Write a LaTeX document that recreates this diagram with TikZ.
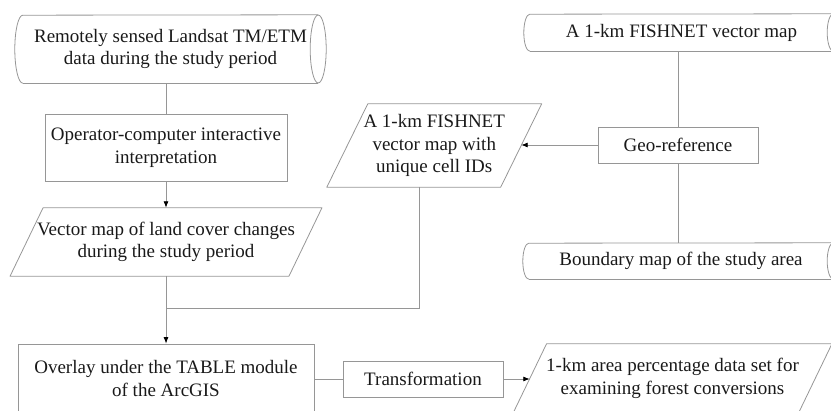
\documentclass[tikz,border=0pt]{standalone}
\usepackage{fontspec}
\setmainfont{Liberation Serif}
\usetikzlibrary{calc,arrows.meta}
\definecolor{linegray}{RGB}{150,150,150}
\definecolor{textdark}{RGB}{25,25,25}
\begin{document}
\begin{tikzpicture}[x=1pt,y=-1pt,
  every node/.style={font=\fontsize{19}{22.5}\selectfont, align=center, inner sep=0pt, text=textdark},
  boxrect/.style={draw=linegray, line width=0.8pt, rectangle},
  plainshape/.style={rectangle, draw=none},
  conn/.style={draw=linegray, line width=0.8pt},
  arr/.style={conn, -{Latex[length=6.5pt,width=5pt,color=black]}},
  outline/.style={draw=linegray, line width=0.8pt, line join=round}
]
\useasboundingbox (0,0) rectangle (831,411);

% stored-data (cylinder) shapes
\node[plainshape, minimum width=295pt, minimum height=68pt] (n1) at (170.5,49) {Remotely sensed Landsat TM/ETM\\data during the study period};
\draw[outline] (n1.south west) arc[start angle=270,end angle=90,x radius=8pt,y radius=34pt] -- (n1.north east);
\draw[outline] (n1.south west) -- (n1.south east);
\draw[outline] (n1.east) ellipse[x radius=8pt,y radius=34pt];

\node[plainshape, minimum width=303pt, minimum height=37pt] (fv) at (681.5,32.5) {A 1-km FISHNET vector map};
\draw[outline] (fv.south west) arc[start angle=270,end angle=90,x radius=6pt,y radius=18.5pt] -- (fv.north east);
\draw[outline] (fv.south west) -- (fv.south east);
\draw[outline] (fv.east) ellipse[x radius=6pt,y radius=18.5pt];

\node[plainshape, minimum width=304pt, minimum height=36pt] (bm) at (681,261) {Boundary map of the study area};
\draw[outline] (bm.south west) arc[start angle=270,end angle=90,x radius=6pt,y radius=18pt] -- (bm.north east);
\draw[outline] (bm.south west) -- (bm.south east);
\draw[outline] (bm.east) ellipse[x radius=6pt,y radius=18pt];

% process boxes
\node[boxrect, minimum width=242pt, minimum height=67pt] (op) at (166,147.5) {Operator-computer interactive\\interpretation};
\node[boxrect, minimum width=160pt, minimum height=36pt] (geo) at (678,145) {Geo-reference};
\node[boxrect, minimum width=296pt, minimum height=69pt] (ov) at (166,378.5) {Overlay under the TABLE module\\of the ArcGIS};
\node[boxrect, minimum width=160pt, minimum height=36pt] (tr) at (423,379) {Transformation};

% data (parallelogram) shapes
\node[plainshape, minimum width=278.5pt, minimum height=68pt] (vm) at (166,242) {Vector map of land cover changes\\during the study period};
\draw[outline] ($(vm.north west)+(16.5,0)$) -- ($(vm.north east)+(16.5,0)$) -- ($(vm.south east)+(-16.5,0)$) -- ($(vm.south west)+(-16.5,0)$) -- cycle;

\node[plainshape, minimum width=173.5pt, minimum height=83pt] (fn) at (434.25,145.5) {A 1-km FISHNET\\vector map with\\unique cell IDs};
\draw[outline] ($(fn.north west)+(20.5,0)$) -- ($(fn.north east)+(20.5,0)$) -- ($(fn.south east)+(-20.5,0)$) -- ($(fn.south west)+(-20.5,0)$) -- cycle;

\node[plainshape, minimum width=285pt, minimum height=69pt] (out) at (672.5,378.5) {1-km area percentage data set for\\examining forest conversions};
\draw[outline] ($(out.north west)+(16.75,0)$) -- ($(out.north east)+(16.75,0)$) -- ($(out.south east)+(-16.75,0)$) -- ($(out.south west)+(-16.75,0)$) -- cycle;

\coordinate (j) at (419,308);

% connectors
\draw[conn] (op.north |- n1.south) -- (op.north);
\draw[arr] (op.south) -- (vm.north);
\draw[arr] (vm.south) -- (ov.north);
\draw[conn] (fn.south -| j) |- (j -| vm.south);
\draw[conn] (geo.north |- fv.south) -- (geo.north);
\draw[conn] (geo.south) -- (geo.south |- bm.north);
\draw[arr] (geo.west) -- (geo.west -| fn.east);
\draw[conn] (ov.east |- tr.west) -- (tr.west);
\draw[arr] (tr.east) -- (tr.east -| out.west);
\end{tikzpicture}
\end{document}
